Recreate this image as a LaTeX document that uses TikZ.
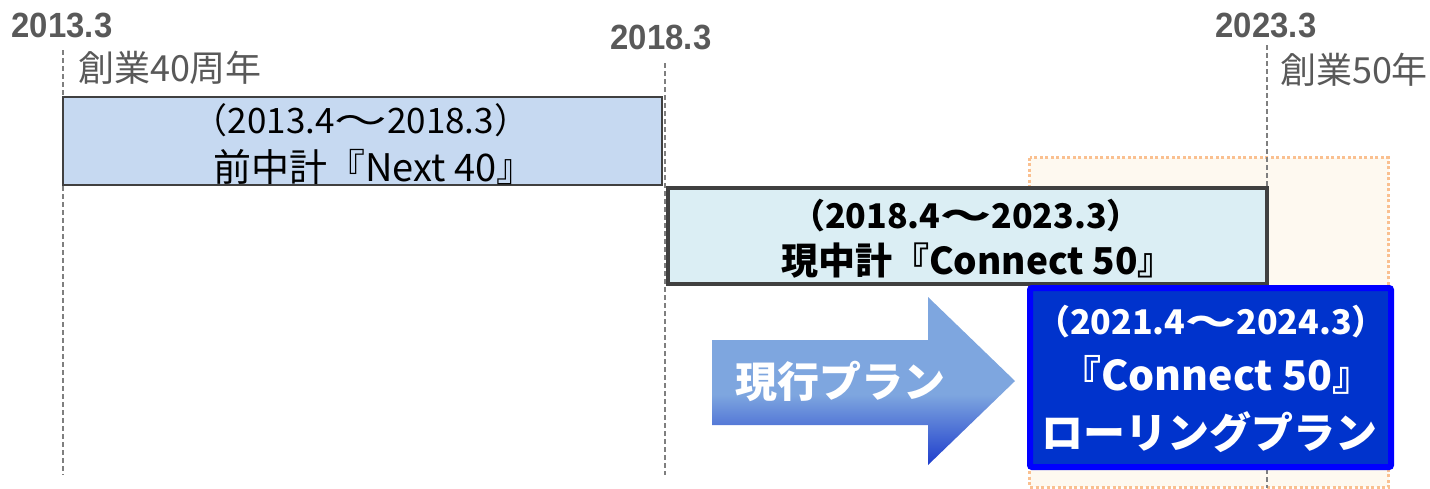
\documentclass[tikz,border=0pt]{standalone}
\usepackage{graphicx}
\usepackage{fontspec}
\setmainfont{Noto Sans CJK JP}
\newfontfamily\yearfont[FakeStretch=0.94]{Liberation Sans}

\definecolor{labelgray}{HTML}{595959}
\definecolor{guidegray}{HTML}{7F7F7F}
\definecolor{boxborder}{HTML}{404040}
\definecolor{prevfill}{HTML}{C6D9F1}
\definecolor{currfill}{HTML}{DBEEF4}
\definecolor{rollfill}{HTML}{0033CC}
\definecolor{rollborder}{HTML}{0000FF}
\definecolor{spanfill}{HTML}{FEF9F0}
\definecolor{spanborder}{HTML}{FAC090}
\definecolor{arrowlight}{HTML}{7EA6DF}
\definecolor{arrowdark}{HTML}{1E3DCC}

\pgfdeclareverticalshading{planfade}{100bp}{color(0bp)=(arrowdark); color(25bp)=(arrowdark); color(46bp)=(arrowlight); color(100bp)=(arrowlight)}

% wide wave dash between the two dates
\newcommand{\wave}{\scalebox{1.5}[1]{～}}

\begin{document}
\begin{tikzpicture}[x=1pt,y=-1pt,
    yearlabel/.style={text=labelgray,font=\yearfont\bfseries\fontsize{35}{35}\selectfont},
    annivlabel/.style={text=labelgray,font=\fontsize{36}{36}\selectfont},
    guide/.style={draw=guidegray,line width=1.3pt,dash pattern=on 5pt off 3pt},
    planbox/.style={rectangle,inner sep=0pt},
    planline/.style={inner sep=0pt}]

    % --- Frame ---
    \useasboundingbox (0,0) rectangle (1430,488);

    % --- Extended span (behind everything) ---
    \draw[fill=spanfill,draw=spanborder,line width=3pt,dash pattern=on 3pt off 2.5pt]
        (1029.5,157.5) rectangle (1388.5,487);

    % --- Year labels ---
    \node[yearlabel] (y13) at (62,25) {2013.3};
    \node[yearlabel] (y18) at (661,37.5) {2018.3};
    \node[yearlabel] (y23) at (1266,25) {2023.3};
    \node[annivlabel] (a40) at (170,68) {創業40周年};
    \node[annivlabel] (a50) at (1354,70) {創業50年};

    % --- Guide lines ---
    \coordinate (g13top) at (63,50);
    \coordinate (g13bot) at (63,475);
    \coordinate (g18top) at (665,63);
    \coordinate (g18bot) at (665,475);
    \coordinate (g23top) at (1267,45);
    \coordinate (g23bot) at (1267,488);
    \draw[guide] (g13top) -- (g13bot);
    \draw[guide] (g18top) -- (g18bot);
    \draw[guide] (g23top) -- (g23bot);

    % --- Plan boxes ---
    % previous plan
    \node[planbox,fill=prevfill,draw=boxborder,line width=2pt,
          minimum width=599pt,minimum height=88pt] (prev) at (362.5,141) {};
    \node[planline,font=\fontsize{35}{35}\selectfont] (prev1) at (361,120) {（2013.4\wave 2018.3）};
    \node[planline,font=\fontsize{38}{38}\selectfont] (prev2) at (374,167) {前中計『Next 40』};
    % current plan
    \node[planbox,fill=currfill,draw=boxborder,line width=3.5pt,
          minimum width=599pt,minimum height=96pt] (curr) at (967.5,236) {};
    \node[planline,font=\bfseries\fontsize{34}{34}\selectfont] (curr1) at (966,216) {（2018.4\wave 2023.3）};
    \node[planline,font=\bfseries\fontsize{37}{37}\selectfont] (curr2) at (978,261) {現中計『Connect 50』};

    % --- Arrow ---
    \coordinate (a1) at (712,340);
    \coordinate (a2) at (928,340);
    \coordinate (a3) at (928,297);
    \coordinate (tip) at (1015,381);
    \coordinate (a4) at (928,465);
    \coordinate (a5) at (928,425);
    \coordinate (a6) at (712,425);
    \shade[shading=planfade] (a1) -- (a2) -- (a3) -- (tip) -- (a4) -- (a5) -- (a6) -- cycle;
    \node[planline,text=white,font=\bfseries\fontsize{42}{42}\selectfont] (now) at (840,381) {現行プラン};

    % --- Rolling plan ---
    \node[planbox,fill=rollfill,draw=rollborder,line width=6pt,rounded corners=2pt,
          minimum width=361pt,minimum height=179pt] (roll) at (1210.5,377.5) {};
    \node[planline,text=white,font=\bfseries\fontsize{34}{34}\selectfont] (roll1) at (1211,322) {（2021.4\wave 2024.3）};
    \node[planline,text=white,font=\bfseries\fontsize{41}{41}\selectfont] (roll2) at (1217,375) {『Connect 50』};
    \node[planline,text=white,font=\bfseries\fontsize{42}{42}\selectfont] (roll3) at (1209,432) {ローリングプラン};

\end{tikzpicture}
\end{document}
